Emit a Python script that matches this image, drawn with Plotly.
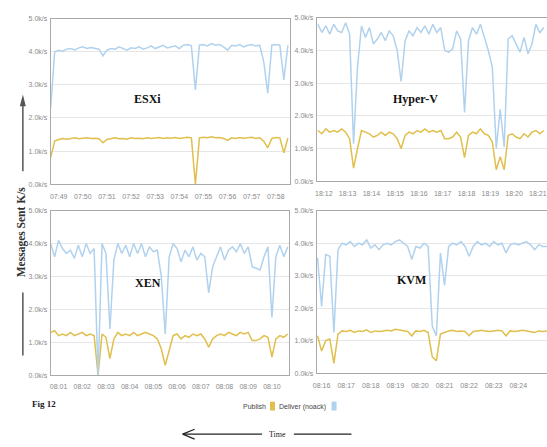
import pandas as pd
import plotly.graph_objects as go

# ---------------- data (k msg/s), one sample every 10 s ----------------
esxi_start = "2015-01-01 07:48:40"
esxi_deliver = [2.3, 4.0, 4.05, 4.02, 4.08, 4.1, 4.06, 4.12, 4.15, 4.1, 4.13, 4.1, 4.08, 3.88, 4.05,
                4.1, 4.08, 4.15, 4.1, 4.05, 4.12, 4.1, 4.15, 4.08, 4.12, 4.18, 4.1, 4.15, 4.2, 4.12,
                4.15, 4.18, 4.1, 4.2, 4.22, 4.18, 2.85, 4.2, 4.22, 4.18, 4.25, 4.2, 4.22, 4.15, 4.05,
                4.2, 4.18, 4.22, 4.15, 4.2, 4.22, 4.18, 4.2, 3.7, 2.75, 4.2, 4.22, 4.2, 3.15, 4.2]
esxi_publish = [0.8, 1.3, 1.35, 1.38, 1.36, 1.38, 1.4, 1.37, 1.38, 1.4, 1.38, 1.39, 1.37, 1.25, 1.35,
                1.38, 1.4, 1.37, 1.38, 1.36, 1.4, 1.38, 1.39, 1.37, 1.4, 1.38, 1.39, 1.41, 1.38, 1.4,
                1.39, 1.41, 1.38, 1.4, 1.42, 1.4, 0.0, 1.4, 1.42, 1.4, 1.43, 1.4, 1.41, 1.38, 1.32,
                1.4, 1.38, 1.41, 1.39, 1.4, 1.42, 1.38, 1.4, 1.3, 1.1, 1.38, 1.41, 1.4, 0.95, 1.4]

hyperv_start = "2015-01-01 18:11:45"
hyperv_deliver = [4.8, 4.55, 4.75, 4.5, 4.8, 4.6, 4.55, 4.85, 4.5, 1.15, 3.5, 4.75, 4.4, 4.7, 4.2,
                  4.35, 4.55, 4.3, 4.6, 4.45, 4.0, 3.05, 4.3, 4.6, 4.45, 4.7, 4.55, 4.75, 4.5, 4.8,
                  4.55, 4.7, 4.0, 3.95, 4.05, 4.6, 4.35, 2.1, 4.3, 4.7, 4.5, 4.8, 4.4, 4.0, 3.5,
                  1.0, 2.2, 1.05, 4.35, 4.45, 4.2, 3.95, 4.4, 3.9, 4.2, 4.8, 4.55, 4.7]
hyperv_publish = [1.55, 1.45, 1.6, 1.5, 1.55, 1.5, 1.6, 1.5, 1.3, 0.4, 1.0, 1.55, 1.5, 1.45, 1.35,
                  1.4, 1.5, 1.4, 1.5, 1.45, 1.3, 1.0, 1.4, 1.5, 1.45, 1.55, 1.5, 1.6, 1.5, 1.55,
                  1.5, 1.55, 1.3, 1.3, 1.35, 1.5, 1.35, 0.72, 1.4, 1.5, 1.45, 1.6, 1.45, 1.4, 1.2,
                  0.35, 0.75, 0.35, 1.4, 1.45, 1.35, 1.3, 1.45, 1.35, 1.5, 1.55, 1.45, 1.55]

xen_start = "2015-01-01 08:00:40"
xen_deliver = [4.0, 3.6, 4.1, 3.85, 3.7, 3.8, 3.55, 3.95, 3.6, 4.0, 3.7, 3.85, 0.0, 4.0, 3.7,
               1.4, 3.5, 4.0, 3.7, 3.95, 3.6, 4.0, 3.7, 4.0, 3.6, 3.9, 3.75, 3.8, 3.0, 1.25,
               3.6, 4.0, 3.85, 3.45, 3.8, 3.6, 3.9, 3.5, 3.7, 3.6, 2.5, 3.3, 3.6, 3.9, 3.5,
               3.8, 3.9, 3.75, 4.0, 3.7, 3.9, 3.3, 3.25, 3.2, 3.6, 3.9, 1.75, 3.6, 3.95, 3.6, 3.9]
xen_publish = [1.3, 1.35, 1.2, 1.25, 1.2, 1.3, 1.2, 1.25, 1.3, 1.2, 1.25, 1.2, 0.0, 1.25, 1.15,
               0.5, 1.1, 1.3, 1.2, 1.25, 1.2, 1.3, 1.2, 1.25, 1.3, 1.25, 1.2, 1.1, 0.8, 0.3,
               0.75, 1.2, 1.25, 1.1, 1.2, 1.15, 1.25, 1.2, 1.25, 1.1, 0.85, 1.1, 1.2, 1.25, 1.2,
               1.3, 1.25, 1.2, 1.3, 1.25, 1.3, 1.05, 1.05, 1.1, 1.2, 1.15, 0.55, 1.1, 1.2, 1.15, 1.25]

kvm_start = "2015-01-01 08:15:50"
kvm_deliver = [3.55, 2.05, 3.65, 3.6, 1.25, 3.8, 4.0, 3.95, 4.05, 3.9, 4.0, 3.95, 4.1, 3.85, 3.95,
               3.8, 3.95, 4.0, 3.95, 4.05, 4.1, 4.0, 3.9, 3.5, 3.9, 3.85, 4.0, 3.9, 1.45, 1.15,
               3.7, 2.7, 3.9, 4.0, 3.95, 4.05, 3.9, 3.6, 3.9, 4.05, 3.95, 4.0, 3.9, 4.05, 3.95,
               4.0, 3.7, 3.95, 4.0, 3.95, 4.0, 4.05, 3.95, 3.8, 3.95, 3.9, 3.9]
kvm_publish = [1.15, 0.68, 1.0, 1.05, 0.3, 1.2, 1.3, 1.28, 1.32, 1.25, 1.3, 1.28, 1.33, 1.25, 1.3,
               1.28, 1.3, 1.32, 1.3, 1.35, 1.33, 1.3, 1.28, 1.15, 1.3, 1.28, 1.32, 1.25, 0.5, 0.38,
               1.2, 1.25, 1.3, 1.32, 1.28, 1.3, 1.28, 1.15, 1.28, 1.3, 1.32, 1.3, 1.28, 1.3, 1.32,
               1.3, 1.15, 1.3, 1.28, 1.3, 1.32, 1.3, 1.28, 1.25, 1.3, 1.28, 1.3]

panel_names = ["ESXi", "Hyper-V", "XEN", "KVM"]
y_ticks = [0, 1, 2, 3, 4, 5]
y_ticktext = ["0.0k/s", "1.0k/s", "2.0k/s", "3.0k/s", "4.0k/s", "5.0k/s"]

W, H = 547, 447
BLUE = "#b0d2ee"
GOLD = "#e0bf4c"

panels = [
    dict(name="ESXi", start=esxi_start, dl=esxi_deliver, pb=esxi_publish,
         xr=("2015-01-01 07:48:40", "2015-01-01 07:58:35"), px=(47, 288), py=(15, 183), lab=(145, 97)),
    dict(name="Hyper-V", start=hyperv_start, dl=hyperv_deliver, pb=hyperv_publish,
         xr=("2015-01-01 18:11:42", "2015-01-01 18:21:23"), px=(315, 547), py=(14, 180), lab=(415, 97)),
    dict(name="XEN", start=xen_start, dl=xen_deliver, pb=xen_publish,
         xr=("2015-01-01 08:00:40", "2015-01-01 08:10:43"), px=(47, 287), py=(210, 377), lab=(145, 283)),
    dict(name="KVM", start=kvm_start, dl=kvm_deliver, pb=kvm_publish,
         xr=("2015-01-01 08:15:48", "2015-01-01 08:25:10"), px=(315, 547), py=(210, 375), lab=(410, 280)),
]

fig = go.Figure()
narrow = "Liberation Sans Narrow, Arial Narrow, Liberation Sans, sans-serif"
tickfont = dict(family=narrow, size=7, color="#8a8a8a")
layout = {}
annotations = []
for k, p in enumerate(panels, start=1):
    sfx = "" if k == 1 else str(k)
    t = pd.date_range(p["start"], periods=len(p["dl"]), freq="10s")
    fig.add_trace(go.Scatter(x=t, y=p["pb"], mode="lines", line=dict(color=GOLD, width=1.5),
                             xaxis="x" + sfx, yaxis="y" + sfx, showlegend=False))
    fig.add_trace(go.Scatter(x=t, y=p["dl"], mode="lines", line=dict(color=BLUE, width=1.5),
                             xaxis="x" + sfx, yaxis="y" + sfx, showlegend=False))
    left = p["px"][0] < 100
    layout["xaxis" + sfx] = dict(
        domain=[p["px"][0] / W, p["px"][1] / W], anchor="y" + sfx, type="date",
        range=list(p["xr"]), tickformat="%H:%M", dtick=60000, tick0="2015-01-01 00:00:00",
        showgrid=False, zeroline=False, showline=True, linecolor="#a9a9a9", linewidth=1,
        mirror=True, ticks="outside", ticklen=5, tickcolor="rgba(0,0,0,0)",
        tickfont=tickfont, fixedrange=True)
    layout["yaxis" + sfx] = dict(
        domain=[1 - p["py"][1] / H, 1 - p["py"][0] / H], anchor="x" + sfx,
        range=[0, 5], tickvals=y_ticks, ticktext=y_ticktext,
        showgrid=True, gridcolor="#e6e6e6", gridwidth=1, zeroline=False,
        showline=True, linecolor="#a9a9a9", linewidth=1, mirror=left,
        ticks="outside", ticklen=1, tickcolor="rgba(0,0,0,0)", tickfont=tickfont, fixedrange=True)
    annotations.append(dict(x=p["lab"][0] / W, y=1 - p["lab"][1] / H, xref="paper", yref="paper",
                            xanchor="center", yanchor="middle",
                            text="<b>" + p["name"] + "</b>", showarrow=False,
                            font=dict(family="Liberation Serif, Times New Roman, serif", size=12, color="#111")))

serif = "Liberation Serif, Times New Roman, serif"
annotations += [
    dict(x=18 / W, y=1 - 231 / H, xref="paper", yref="paper", text="<b>Messages Sent K/s</b>",
         xanchor="center", yanchor="middle",
         textangle=-90, showarrow=False, font=dict(family=serif, size=11.5, color="#333")),
    dict(x=40 / W, y=1 - 406 / H, xref="paper", yref="paper", text="<b>Fig 12</b>",
         xanchor="center", yanchor="middle",
         showarrow=False, font=dict(family=serif, size=9, color="#222")),
    dict(x=266 / W, y=1 - 409 / H, xref="paper", yref="paper", text="Publish", xanchor="right",
         yanchor="middle", showarrow=False, font=dict(family=narrow, size=7, color="#444")),
    dict(x=275 / W, y=1 - 409 / H, xref="paper", yref="paper", text="Deliver (noack)", xanchor="left",
         yanchor="middle", showarrow=False, font=dict(family=narrow, size=7, color="#444")),
    dict(x=276 / W, y=1 - 437 / H, xref="paper", yref="paper", text="Time",
         xanchor="center", yanchor="middle",
         showarrow=False, font=dict(family=serif, size=8, color="#222")),
]

def P(x, y):
    return x / W, 1 - y / H

shapes = []
def line(x0, y0, x1, y1, w=1.2, c="#222"):
    a, b = P(x0, y0); cc, d = P(x1, y1)
    shapes.append(dict(type="line", xref="paper", yref="paper", x0=a, y0=b, x1=cc, y1=d,
                       line=dict(color=c, width=w)))

# legend swatches
for x0, col in [(268, GOLD), (330, BLUE)]:
    a, b = P(x0, 404); cc, d = P(x0 + 5, 413)
    shapes.append(dict(type="rect", xref="paper", yref="paper", x0=a, y0=b, x1=cc, y1=d,
                       fillcolor=col, line=dict(width=0)))
# time arrow
line(180, 437, 260, 437)
line(180, 437, 192, 432)
line(180, 437, 192, 442)
line(292, 437, 350, 437)
# vertical arrow on the left
line(19, 100, 19, 170, w=1.5, c="#555")
xa, ya = P(16, 104); xb, yb = P(19, 92); xc, yc = P(22, 104)
shapes.append(dict(type="path", xref="paper", yref="paper",
                   path=f"M {xa} {ya} L {xb} {yb} L {xc} {yc} Z", fillcolor="#555", line=dict(width=0)))
line(19, 293, 19, 357, w=1.5, c="#555")

fig.update_layout(width=W, height=H, margin=dict(l=0, r=0, t=0, b=0),
                  paper_bgcolor="white", plot_bgcolor="white",
                  annotations=annotations, shapes=shapes, **layout)
fig.write_html("out.html")
